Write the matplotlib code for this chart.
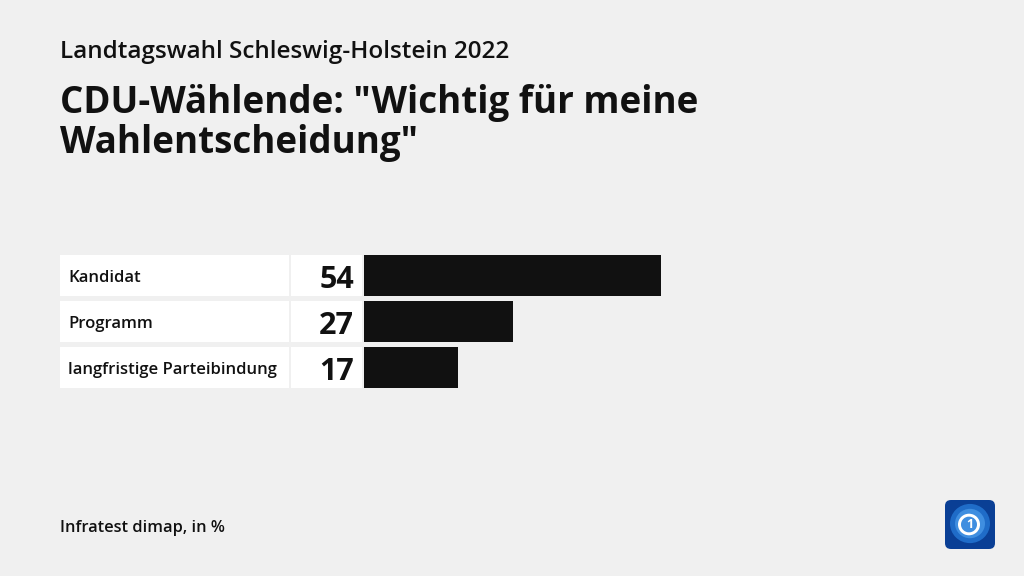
import matplotlib.pyplot as plt
from matplotlib.patches import FancyBboxPatch, Circle, Wedge

plt.rcParams['font.family'] = ['Open Sans', 'DejaVu Sans']

kategorien = ['Kandidat', 'Programm', 'langfristige Parteibindung']
werte = [54, 27, 17]

bg = '#f0f0f0'
fig = plt.figure(figsize=(10.24, 5.76), dpi=100)
fig.patch.set_facecolor(bg)

W, H = 1024, 576
# Achse: Pixel 60..720 horizontal, 5.5 px pro Prozentpunkt, Balken starten bei 364
px = 5.5
x0, x1 = 60, 720
ax = fig.add_axes([x0 / W, 1 - 395 / H, (x1 - x0) / W, (395 - 250) / H])
ax.set_facecolor(bg)
ax.set_xlim((x0 - 364) / px, (x1 - 364) / px)
ax.set_ylim(2.6, -0.55)
ax.axis('off')

y = list(range(len(kategorien)))
h = 42 / 46.5
lab_left = (60 - 364) / px
lab_w = (289 - 60) / px
num_left = (291 - 364) / px
num_w = (362 - 291) / px
ax.barh(y, [lab_w] * 3, left=lab_left, height=h, color='white')
ax.barh(y, [num_w] * 3, left=num_left, height=h, color='white')
ax.barh(y, werte, left=0, height=h, color='#111111')
for yi, k, v in zip(y, kategorien, werte):
    ax.text(lab_left + 8 / px, yi + 0.06, k, va='center', ha='left', fontsize=12,
            fontweight='semibold', color='#111111')
    ax.text(-10 / px, yi + 0.1, str(v), va='center', ha='right', fontsize=22,
            fontweight='bold', color='#111111')

fig.text(60 / W, 1 - 52 / H, 'Landtagswahl Schleswig-Holstein 2022', fontsize=17.5,
         fontweight='semibold', va='center', ha='left', color='#111111')
fig.text(60 / W, 1 - 123 / H, 'CDU-Wählende: "Wichtig für meine\nWahlentscheidung"',
         fontsize=26.5, fontweight='bold', va='center', ha='left', color='#111111',
         linespacing=1.08)
fig.text(60 / W, 1 - 528 / H, 'Infratest dimap, in %', fontsize=11.8,
         fontweight='semibold', va='center', ha='left', color='#111111')

# Logo
lax = fig.add_axes([945 / W, 1 - 549 / H, 50 / W, 49 / H])
lax.set_xlim(0, 1)
lax.set_ylim(0, 1)
lax.axis('off')
lax.add_patch(FancyBboxPatch((0, 0), 1, 1, boxstyle='round,pad=0,rounding_size=0.12',
                             facecolor='#0a3f95', edgecolor='none'))
lax.add_patch(Circle((0.5, 0.52), 0.4, facecolor='#1f6cc8', edgecolor='none'))
lax.add_patch(Circle((0.5, 0.52), 0.3, facecolor='#3f8ee0', edgecolor='none'))
lax.add_patch(Wedge((0.48, 0.5), 0.22, 0, 360, width=0.06, facecolor='white'))
lax.text(0.49, 0.49, '1', color='white', fontsize=9, fontweight='bold',
         ha='center', va='center')

fig.savefig('out.png', dpi=100, facecolor=bg)
